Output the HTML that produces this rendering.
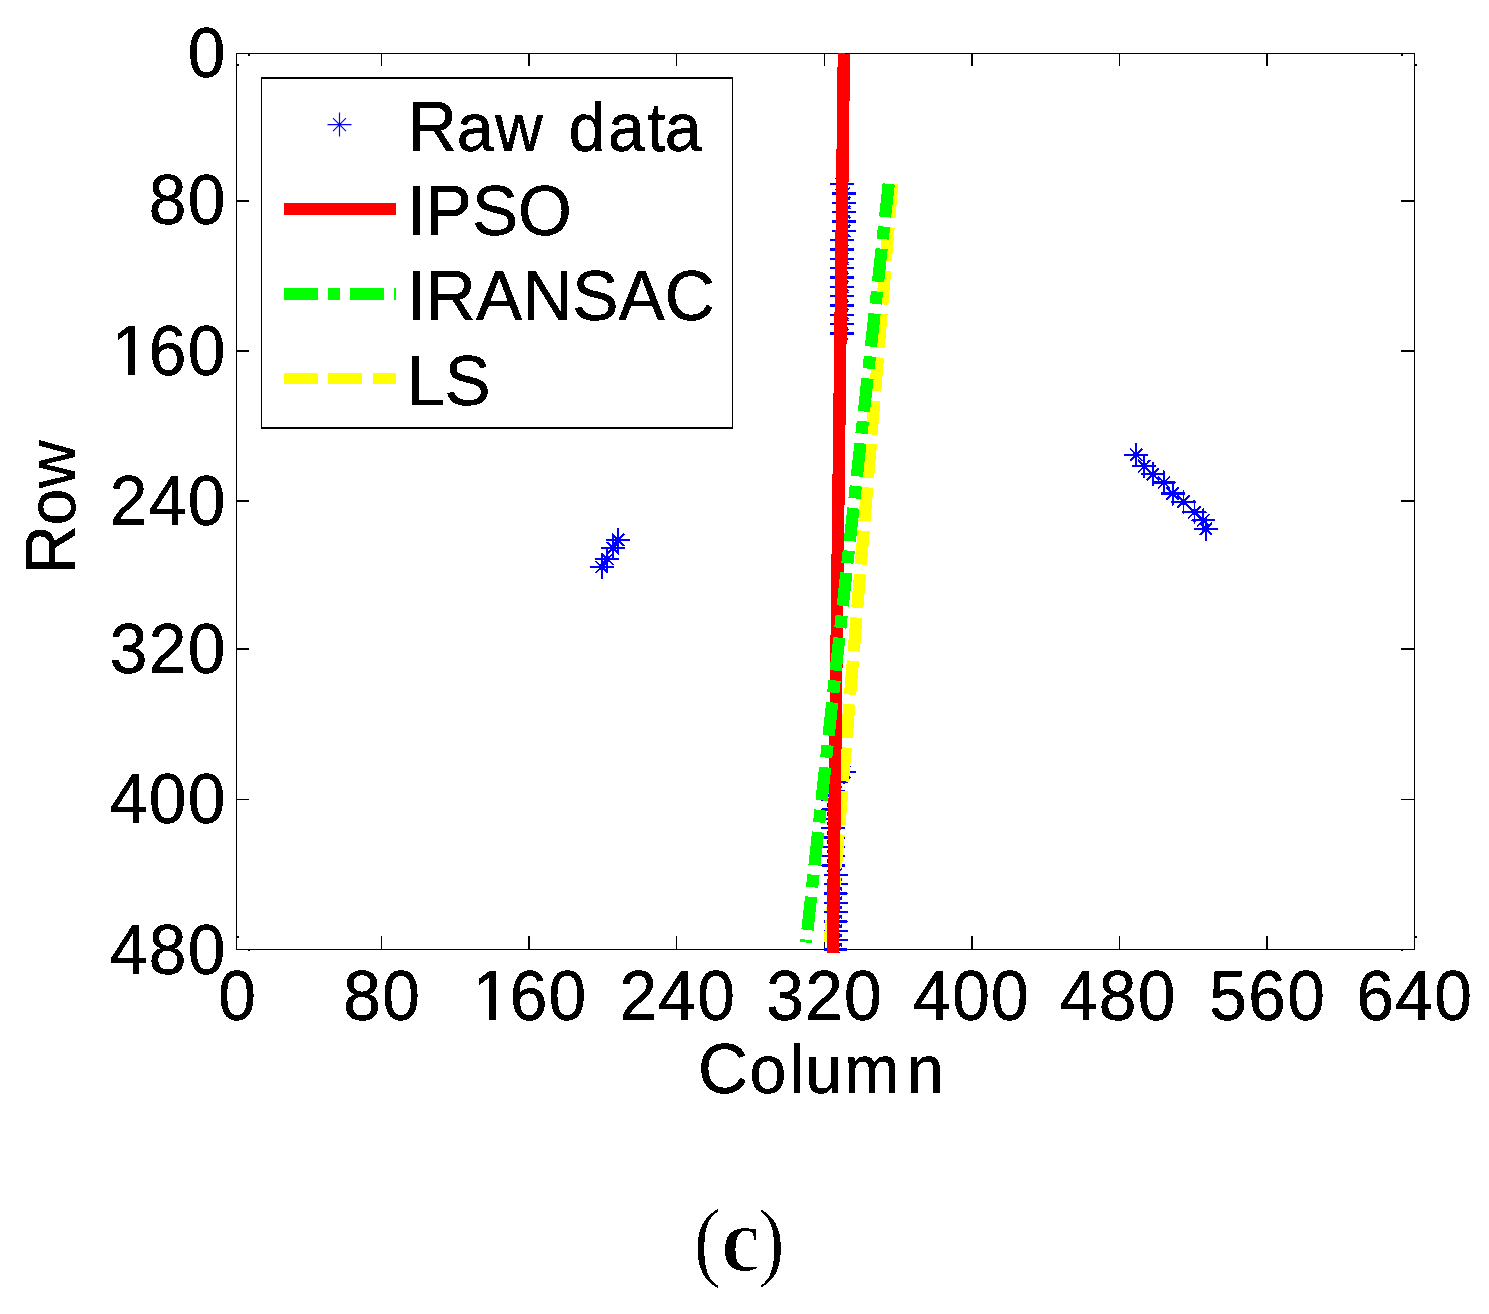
<!DOCTYPE html>
<html lang="en">
<head>
<meta charset="utf-8">
<title>Line fitting comparison (c)</title>
<style>
html,body{margin:0;padding:0;background:#fff;}
body{width:1489px;height:1314px;overflow:hidden;}
svg{display:block;}
.sans{font-family:"Liberation Sans", Arial, Helvetica, sans-serif;font-size:70px;fill:#000;stroke:#000;stroke-width:0.45px;stroke-linejoin:round;font-kerning:none;}
.serif{font-family:"Liberation Serif", "Times New Roman", serif;fill:#000;}
.ax{stroke:#000;fill:none;shape-rendering:crispEdges;}
.star{stroke:#0000ff;fill:none;stroke-width:1.9;}
</style>
</head>
<body>
<svg width="1489" height="1314" viewBox="0 0 1489 1314">
<rect x="0" y="0" width="1489" height="1314" fill="#ffffff"/>
<defs><filter id="bin" filterUnits="userSpaceOnUse" x="0" y="0" width="1489" height="1314" color-interpolation-filters="sRGB"><feComponentTransfer><feFuncA type="discrete" tableValues="0 1"/></feComponentTransfer></filter><filter id="binbw" filterUnits="userSpaceOnUse" x="600" y="1150" width="300" height="164" color-interpolation-filters="sRGB"><feComponentTransfer><feFuncR type="discrete" tableValues="0 1"/><feFuncG type="discrete" tableValues="0 1"/><feFuncB type="discrete" tableValues="0 1"/><feFuncA type="discrete" tableValues="0 1"/></feComponentTransfer></filter></defs>
<g id="axes" class="ax">
<rect x="236.5" y="53.5" width="1178.0" height="896.0" stroke-width="1.3"/>
<path stroke-width="1.5" d="M381.4 949.5v-14M381.4 53.5v12M529.1 949.5v-14M529.1 53.5v12M676.3 949.5v-14M676.3 53.5v12M824.5 949.5v-14M824.5 53.5v12M971.9 949.5v-14M971.9 53.5v12M1119.7 949.5v-14M1119.7 53.5v12M1266.9 949.5v-14M1266.9 53.5v12M236.5 200.8h12.5M1414.5 200.8h-14M236.5 351.0h12.5M1414.5 351.0h-14M236.5 501.1h12.5M1414.5 501.1h-14M236.5 649.0h12.5M1414.5 649.0h-14M236.5 799.3h12.5M1414.5 799.3h-14"/>
<path fill="#000" stroke="none" d="M247.5 54.0h2.0v1.5h-2.0zM236.5 64.0h2.0v1.5h-2.0zM1400.8 54.0h2.0v1.5h-2.0zM1414.5 64.0h2.0v1.5h-2.0zM247.5 949.5h2.0v1.5h-2.0zM236.5 936.0h2.0v1.5h-2.0zM1400.8 949.5h2.0v1.5h-2.0zM1414.5 936.0h2.0v1.5h-2.0z"/>
</g>
<clipPath id="axclip"><rect x="236.5" y="53.5" width="1178.0" height="899.5"/></clipPath>
<g id="raw-data" clip-path="url(#axclip)" filter="url(#bin)">
<path class="star" d="M830.0 184.2H854.0M842.0 172.2V196.2M835.8 178.0L848.2 190.4M835.8 190.4L848.2 178.0"/>
<path class="star" d="M832.0 193.5H856.0M844.0 181.5V205.5M837.8 187.3L850.2 199.7M837.8 199.7L850.2 187.3"/>
<path class="star" d="M832.0 202.8H856.0M844.0 190.8V214.8M837.8 196.6L850.2 209.0M837.8 209.0L850.2 196.6"/>
<path class="star" d="M832.0 212.2H856.0M844.0 200.2V224.2M837.8 206.0L850.2 218.4M837.8 218.4L850.2 206.0"/>
<path class="star" d="M832.0 221.5H856.0M844.0 209.5V233.5M837.8 215.3L850.2 227.7M837.8 227.7L850.2 215.3"/>
<path class="star" d="M832.0 230.8H856.0M844.0 218.8V242.8M837.8 224.6L850.2 237.0M837.8 237.0L850.2 224.6"/>
<path class="star" d="M830.0 240.2H854.0M842.0 228.2V252.2M835.8 234.0L848.2 246.4M835.8 246.4L848.2 234.0"/>
<path class="star" d="M830.0 249.5H854.0M842.0 237.5V261.5M835.8 243.3L848.2 255.7M835.8 255.7L848.2 243.3"/>
<path class="star" d="M830.0 258.8H854.0M842.0 246.8V270.8M835.8 252.6L848.2 265.0M835.8 265.0L848.2 252.6"/>
<path class="star" d="M830.0 268.2H854.0M842.0 256.2V280.2M835.8 262.0L848.2 274.4M835.8 274.4L848.2 262.0"/>
<path class="star" d="M830.0 277.5H854.0M842.0 265.5V289.5M835.8 271.3L848.2 283.7M835.8 283.7L848.2 271.3"/>
<path class="star" d="M830.0 286.8H854.0M842.0 274.8V298.8M835.8 280.6L848.2 293.0M835.8 293.0L848.2 280.6"/>
<path class="star" d="M830.0 296.2H854.0M842.0 284.2V308.2M835.8 290.0L848.2 302.4M835.8 302.4L848.2 290.0"/>
<path class="star" d="M830.0 305.5H854.0M842.0 293.5V317.5M835.8 299.3L848.2 311.7M835.8 311.7L848.2 299.3"/>
<path class="star" d="M830.0 314.8H854.0M842.0 302.8V326.8M835.8 308.6L848.2 321.0M835.8 321.0L848.2 308.6"/>
<path class="star" d="M830.0 324.2H854.0M842.0 312.2V336.2M835.8 318.0L848.2 330.4M835.8 330.4L848.2 318.0"/>
<path class="star" d="M830.0 333.5H854.0M842.0 321.5V345.5M835.8 327.3L848.2 339.7M835.8 339.7L848.2 327.3"/>
<path class="star" d="M832.0 772.2H856.0M844.0 760.2V784.2M837.8 766.0L850.2 778.4M837.8 778.4L850.2 766.0"/>
<path class="star" d="M824.0 781.5H848.0M836.0 769.5V793.5M829.8 775.3L842.2 787.7M829.8 787.7L842.2 775.3"/>
<path class="star" d="M821.1 790.8H845.1M833.1 778.8V802.8M826.9 784.6L839.3 797.0M826.9 797.0L839.3 784.6"/>
<path class="star" d="M821.1 800.2H845.1M833.1 788.2V812.2M826.9 794.0L839.3 806.4M826.9 806.4L839.3 794.0"/>
<path class="star" d="M821.1 809.5H845.1M833.1 797.5V821.5M826.9 803.3L839.3 815.7M826.9 815.7L839.3 803.3"/>
<path class="star" d="M821.1 818.8H845.1M833.1 806.8V830.8M826.9 812.6L839.3 825.0M826.9 825.0L839.3 812.6"/>
<path class="star" d="M821.1 828.2H845.1M833.1 816.2V840.2M826.9 822.0L839.3 834.4M826.9 834.4L839.3 822.0"/>
<path class="star" d="M821.1 837.5H845.1M833.1 825.5V849.5M826.9 831.3L839.3 843.7M826.9 843.7L839.3 831.3"/>
<path class="star" d="M821.1 846.8H845.1M833.1 834.8V858.8M826.9 840.6L839.3 853.0M826.9 853.0L839.3 840.6"/>
<path class="star" d="M821.1 856.2H845.1M833.1 844.2V868.2M826.9 850.0L839.3 862.4M826.9 862.4L839.3 850.0"/>
<path class="star" d="M821.1 865.5H845.1M833.1 853.5V877.5M826.9 859.3L839.3 871.7M826.9 871.7L839.3 859.3"/>
<path class="star" d="M823.8 874.8H847.8M835.8 862.8V886.8M829.6 868.6L842.0 881.0M829.6 881.0L842.0 868.6"/>
<path class="star" d="M823.8 884.2H847.8M835.8 872.2V896.2M829.6 878.0L842.0 890.4M829.6 890.4L842.0 878.0"/>
<path class="star" d="M823.8 893.5H847.8M835.8 881.5V905.5M829.6 887.3L842.0 899.7M829.6 899.7L842.0 887.3"/>
<path class="star" d="M823.8 902.8H847.8M835.8 890.8V914.8M829.6 896.6L842.0 909.0M829.6 909.0L842.0 896.6"/>
<path class="star" d="M823.8 912.2H847.8M835.8 900.2V924.2M829.6 906.0L842.0 918.4M829.6 918.4L842.0 906.0"/>
<path class="star" d="M823.8 921.5H847.8M835.8 909.5V933.5M829.6 915.3L842.0 927.7M829.6 927.7L842.0 915.3"/>
<path class="star" d="M823.8 930.8H847.8M835.8 918.8V942.8M829.6 924.6L842.0 937.0M829.6 937.0L842.0 924.6"/>
<path class="star" d="M823.8 940.2H847.8M835.8 928.2V952.2M829.6 934.0L842.0 946.4M829.6 946.4L842.0 934.0"/>
<path class="star" d="M823.8 949.5H847.8M835.8 937.5V961.5M829.6 943.3L842.0 955.7M829.6 955.7L842.0 943.3"/>
<path class="star" d="M606.1 539.8H630.1M618.1 527.8V551.8M611.9 533.6L624.3 546.0M611.9 546.0L624.3 533.6"/>
<path class="star" d="M600.9 548.1H624.9M612.9 536.1V560.1M606.7 541.9L619.1 554.3M606.7 554.3L619.1 541.9"/>
<path class="star" d="M595.3 559.0H619.3M607.3 547.0V571.0M601.1 552.8L613.5 565.2M601.1 565.2L613.5 552.8"/>
<path class="star" d="M589.7 567.0H613.7M601.7 555.0V579.0M595.5 560.8L607.9 573.2M595.5 573.2L607.9 560.8"/>
<path class="star" d="M1124.2 454.7H1148.2M1136.2 442.7V466.7M1130.0 448.5L1142.4 460.9M1130.0 460.9L1142.4 448.5"/>
<path class="star" d="M1132.2 466.1H1156.2M1144.2 454.1V478.1M1138.0 459.9L1150.4 472.3M1138.0 472.3L1150.4 459.9"/>
<path class="star" d="M1140.9 474.3H1164.9M1152.9 462.3V486.3M1146.7 468.1L1159.1 480.5M1146.7 480.5L1159.1 468.1"/>
<path class="star" d="M1151.9 482.5H1175.9M1163.9 470.5V494.5M1157.7 476.3L1170.1 488.7M1157.7 488.7L1170.1 476.3"/>
<path class="star" d="M1160.6 493.5H1184.6M1172.6 481.5V505.5M1166.4 487.3L1178.8 499.7M1166.4 499.7L1178.8 487.3"/>
<path class="star" d="M1171.5 501.7H1195.5M1183.5 489.7V513.7M1177.3 495.5L1189.7 507.9M1177.3 507.9L1189.7 495.5"/>
<path class="star" d="M1182.5 512.2H1206.5M1194.5 500.2V524.2M1188.3 506.0L1200.7 518.4M1188.3 518.4L1200.7 506.0"/>
<path class="star" d="M1191.2 520.4H1215.2M1203.2 508.4V532.4M1197.0 514.2L1209.4 526.6M1197.0 526.6L1209.4 514.2"/>
<path class="star" d="M1193.9 528.8H1217.9M1205.9 516.8V540.8M1199.7 522.6L1212.1 535.0M1199.7 535.0L1212.1 522.6"/>
</g>
<g id="fits" fill="none" shape-rendering="crispEdges">
<line x1="892.2" y1="183.9" x2="829.7" y2="942.5" stroke="#ffff00" stroke-width="12.2" stroke-dasharray="33.9 9.6"/>
<line x1="843.9" y1="53.5" x2="832.8" y2="953" stroke="#ff0000" stroke-width="12.4"/>
<line x1="888.7" y1="183.9" x2="806.1" y2="942.5" stroke="#00ff00" stroke-width="12.2" stroke-dasharray="33.3 9.7 12.5 9.7"/>
</g>
<g id="ytick" class="sans" filter="url(#bin)">
<text transform="translate(0 77.00) scale(0.967 0.995)" x="194.12" y="0">0</text>
<text transform="translate(0 224.30) scale(0.967 0.995)" x="153.86 194.12" y="0">80</text>
<text transform="translate(0 375.10) scale(0.967 0.995)" x="115.29 153.87 194.12" y="0">160</text>
<text transform="translate(0 524.90) scale(0.967 0.995)" x="113.60 153.85 194.12" y="0">240</text>
<text transform="translate(0 672.90) scale(0.967 0.995)" x="113.59 153.86 194.12" y="0">320</text>
<text transform="translate(0 823.40) scale(0.967 0.995)" x="113.59 153.86 194.12" y="0">400</text>
<text transform="translate(0 973.50) scale(0.967 0.995)" x="113.59 153.86 194.12" y="0">480</text>
</g>
<g id="xtick" class="sans" filter="url(#bin)">
<text transform="translate(0 1019.70) scale(0.967 0.995)" x="225.73" y="0">0</text>
<text transform="translate(0 1019.70) scale(0.967 0.995)" x="354.92 395.18" y="0">80</text>
<text transform="translate(0 1019.70) scale(0.967 0.995)" x="488.50 527.08 567.33" y="0">160</text>
<text transform="translate(0 1019.70) scale(0.967 0.995)" x="640.59 680.84 721.10" y="0">240</text>
<text transform="translate(0 1019.70) scale(0.967 0.995)" x="792.39 832.65 872.91" y="0">320</text>
<text transform="translate(0 1019.70) scale(0.967 0.995)" x="944.40 984.67 1024.93" y="0">400</text>
<text transform="translate(0 1019.70) scale(0.967 0.995)" x="1096.01 1136.27 1176.53" y="0">480</text>
<text transform="translate(0 1019.70) scale(0.967 0.995)" x="1250.61 1290.88 1331.14" y="0">560</text>
<text transform="translate(0 1019.70) scale(0.967 0.995)" x="1402.74 1442.99 1483.26" y="0">640</text>
</g>
<path fill="#ffffff" shape-rendering="crispEdges" d="M115.14 369H128V376.60H115.14ZM135 369H147.32V376.60H135Z"/>
<path fill="#ffffff" shape-rendering="crispEdges" d="M476.03 1014H489V1021.20H476.03ZM496 1014H508.22V1021.20H496Z"/>
<g id="labels" class="sans" filter="url(#bin)">
<text transform="translate(0 1093.0) scale(0.975 1)" x="716.00 768.81 809.93 825.94 865.96 930.40" y="0"><tspan font-size="71.05">C</tspan><tspan font-size="67.90">olumn</tspan></text>
<g transform="translate(75.1 600) rotate(-90)">
<text transform="scale(0.980 1)" x="25.76 75.97 113.92" y="0"><tspan font-size="70.84">R</tspan><tspan font-size="67.90">ow</tspan></text>
</g>
</g>
<g id="legend">
<rect x="261" y="77" width="472" height="352" fill="#ffffff"/>
<path class="ax" stroke-width="2" d="M261 78H733M261 428H733"/>
<path class="ax" stroke-width="1.3" d="M261.5 77V429M732.5 77V429"/>
<path class="star" style="stroke-width:1.2" d="M327.5 124.6H351.5M339.5 112.6V136.6M333.0 118.1L346.0 131.1M333.0 131.1L346.0 118.1"/>
<g shape-rendering="crispEdges" fill="none">
<line x1="284" y1="209" x2="396" y2="209" stroke="#ff0000" stroke-width="12"/>
<line x1="284" y1="294" x2="396" y2="294" stroke="#00ff00" stroke-width="12" stroke-dasharray="34 10 12 10"/>
<line x1="284" y1="378.4" x2="396" y2="378.4" stroke="#ffff00" stroke-width="11" stroke-dasharray="34 10.3"/>
</g>
<g class="sans" filter="url(#bin)">
<text transform="translate(0 150.9) scale(0.975 1)" x="417.72 468.55 507.60 537.60 583.37 623.52 663.84 681.73" y="0"><tspan font-size="70.84">R</tspan><tspan font-size="67.90">aw data</tspan></text>
<text transform="translate(406.62 234.90) scale(1 1.012)" textLength="165.19" lengthAdjust="spacingAndGlyphs">IPSO</text>
<text transform="translate(406.60 319.90) scale(1 1.012)" textLength="308.24" lengthAdjust="spacingAndGlyphs">IRANSAC</text>
<text transform="translate(406.18 404.90) scale(1 1.012)" textLength="84.49" lengthAdjust="spacingAndGlyphs">LS</text>
</g>
</g>
<g id="caption" class="serif" font-size="88" filter="url(#binbw)">
<text transform="scale(0.935 1)" x="741.82 771.12 810.27" y="1269.9 1271.1 1269.9" stroke="#ffffff" stroke-width="1">(<tspan font-weight="bold" font-size="93.6" stroke-width="2">c</tspan>)</text>
</g>
</svg>
</body>
</html>
